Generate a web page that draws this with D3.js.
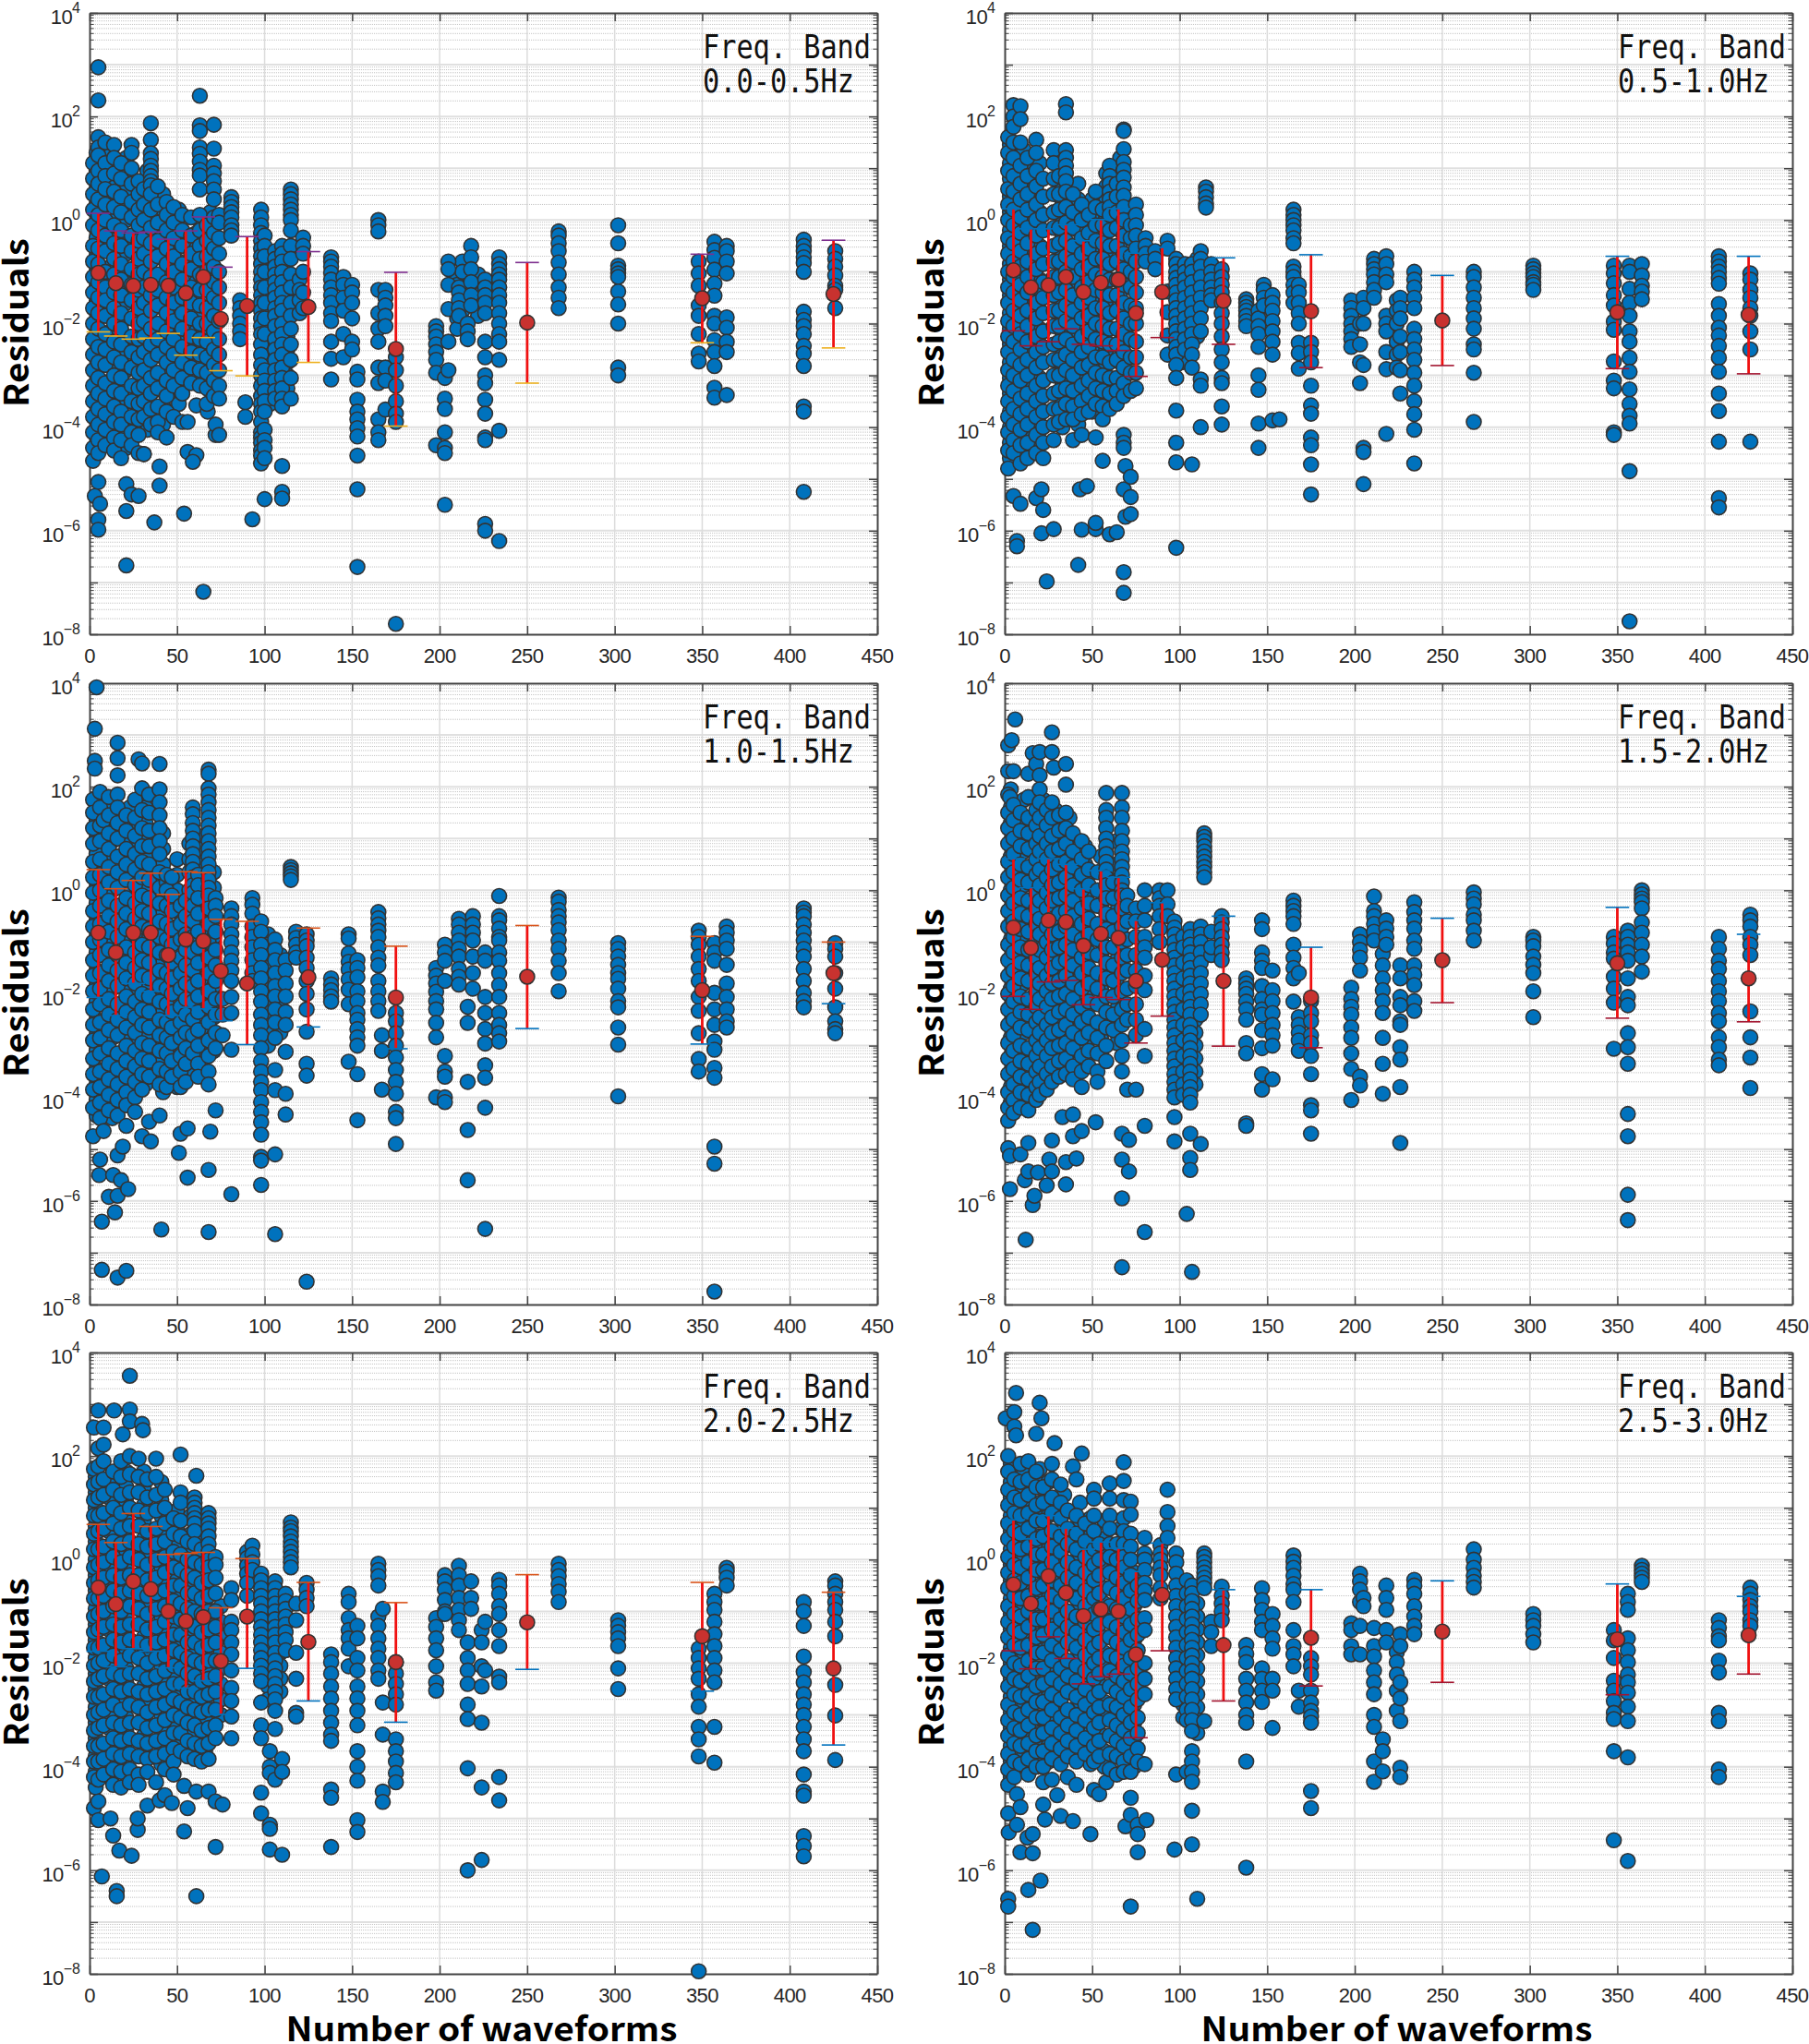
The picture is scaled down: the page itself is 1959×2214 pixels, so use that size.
<!DOCTYPE html>
<html><head><meta charset="utf-8">
<style>html,body{margin:0;background:#fff}svg{display:block}</style>
<script src="https://cdn.jsdelivr.net/npm/d3@7"></script></head><body>
<svg id="c" width="1959" height="2214"></svg>
<script>
// Each row: [number of waveforms, log10(residual), log10(residual), ...]
const pointsBand1=[
[4,1.3,.95,.6,.3,-.05,-.35,-.7,-1,-1.3,-1.6,-1.95,-2.25,-2.55,-2.9,-3.2,-3.5,-3.85,-4.15,-4.45],
[12,1.3,1,.7,.4,.1,-.25,-.6,-.9,-1.2,-1.55,-1.85,-2.15,-2.5,-2.8,-3.1,-3.45,-3.75,-4.05,-4.3],
[21,1.2,.95,.6,.3,0,-.35,-.65,-1,-1.3,-1.6,-1.9,-2.25,-2.55,-2.9,-3.2,-3.5,-3.8,-4.1,-4.4],
[33,.95,.65,.35,0,-.3,-.6,-.95,-1.25,-1.55,-1.9,-2.2,-2.5,-2.85,-3.15,-3.45,-3.8,-4.05],
[42,.5,.2,-.1,-.45,-.75,-1.05,-1.4,-1.7,-2,-2.35,-2.65,-2.95,-3.3,-3.6,-3.95],
[51,.2,-.15,-.45,-.8,-1.1,-1.4,-1.75,-2.05,-2.35,-2.7,-3,-3.3,-3.55],
[61,.05,-.25,-.55,-.9,-1.2,-1.5,-1.85,-2.15,-2.45,-2.8,-3.1],
[69,.15,-.2,-.5,-.85,-1.15,-1.45,-1.8,-2.1,-2.4,-2.7,-3,-3.3],
[103,-.65,-.85,-1.1,-1.35,-1.55,-1.8,-2.05,-2.3,-2.55,-2.8,-3.05,-3.3,-3.55],
[113,-.75,-1,-1.25,-1.5,-1.75,-2,-2.25,-2.5,-2.75,-3,-3.25],
[222,-1.05,-1.25,-1.45,-1.65,-1.85],[210,-1.1,-1.25,-1.9,-2.1],[213,-.8,-1,-1.5,-1.75],
[2,1.1,.8,.5,.2,-.1,-.5,-.8,-1.1,-1.4,-1.7,-2,-2.3,-2.6,-2.9,-3.2,-3.5,-3.8,-4.1,-4.4,-4.65],
[5,2.95,2.31,1.6,1.4,1.25,.95,.7,.4,.1,-.2,-.55,-.85,-1.2,-1.5,-1.8,-2.1,-2.45,-2.75,-3.05,-3.35,-3.65,-3.95,-4.25,-4.5,-5.06,-5.79,-5.98],
[3,-5.33],[6,-5.48],[21,-6.67],[21,-5.62],[37,-5.84],[54,-5.67],[93,-5.78],[65,-7.18],[100,-5.39],[110,-5.25,-5.38],
[9,1.5,1.1,.85,.6,.3,0,-.3,-.6,-1,-1.3,-1.55,-1.85,-2.2,-2.5,-2.8,-3.15,-3.45,-3.75,-4.05,-4.35],
[14,1.45,1.2,.9,.55,.25,-.1,-.45,-.75,-1.05,-1.4,-1.7,-2,-2.35,-2.65,-3,-3.3,-3.6,-3.9,-4.2,-4.45],
[18,1.1,.8,.45,.15,-.2,-.5,-.85,-1.15,-1.45,-1.8,-2.1,-2.4,-2.75,-3.05,-3.35,-3.7,-3.95,-4.25,-4.6],
[24,1.45,1.3,1,.7,.35,.05,-.3,-.6,-.95,-1.25,-1.55,-1.9,-2.25,-2.55,-2.85,-3.2,-3.5,-3.8,-4.1,-4.35],
[21,-5.1],[24,-5.3],[28,-5.33],[40,-5.13,-4.76],
[28,.75,.5,.2,-.1,-.4,-.75,-1.05,-1.35,-1.7,-2,-2.3,-2.65,-2.95,-3.25,-3.55,-3.85,-4.15,-4.5],
[31,.6,.3,0,-.35,-.65,-1,-1.3,-1.6,-1.95,-2.25,-2.55,-2.9,-3.2,-3.5,-3.8,-4.52],
[35,1.87,1.55,1.29,1.18,1.05,.95,.85,.75,.67,.5,.2,-.15,-.45,-.8,-1.1,-1.45,-1.75,-2.1,-2.4,-2.7,-3.05,-3.35,-3.65,-3.95],
[39,.65,.3,-.05,-.4,-.7,-1.05,-1.35,-1.65,-2,-2.3,-2.6,-2.95,-3.25,-3.6,-3.9,-4.1],
[44,.35,.1,-.2,-.55,-.85,-1.2,-1.5,-1.8,-2.15,-2.45,-2.75,-3.1,-3.4,-3.7,-4.2],
[48,.25,-.05,-.35,-.7,-1,-1.3,-1.6,-1.95,-2.3,-2.6,-2.9,-3.2,-3.8],
[53,.1,-.2,-.5,-.85,-1.15,-1.5,-1.8,-2.1,-2.45,-2.75,-3.05,-3.35,-3.9],
[56,-4.48,-3.9],[61,-4.54,-3.58],[59,-4.67],[72,-4.15,-3.95],[31,-4.52],[67.5,-3.7],[89,-3.52,-3.8],
[58,.05,-.3,-.65,-.95,-1.3,-1.6,-1.9,-2.25,-2.55,-2.85,-3.15],
[63,2.4,1.83,1.72,1.4,1.28,1.13,.97,.86,.59,.1,-.2,-.5,-.75,-1.05,-1.35,-1.65,-2,-2.3,-2.6,-2.9,-3.2],
[67,-.1,-.4,-.7,-1,-1.35,-1.7,-2,-2.35,-2.65,-2.95,-3.25,-3.55],
[71,1.84,1.38,1.05,.9,.75,.59,.4,.05,-.25,-.55,-.9,-1.2,-1.5,-1.85,-2.15,-2.5,-2.8,-3.1,-3.4],
[74,.1,-.05,-.35,-.65,-1,-1.3,-1.6,-1.95,-2.3,-2.6,-2.9,-3.2,-3.45,-4.15],
[81,.44,.35,.25,.15,.05,-.1,-.2,-.3],
[86,-1.55,-1.7,-1.85,-2,-2.15,-2.3],
[98,.2,.05,-.1,-.25,-.4,-.55,-.7,-.85,-1,-1.15,-1.3,-1.45,-1.6,-1.75,-1.9,-2.05,-2.2,-2.4,-2.6,-2.8,-3,-3.2,-3.4,-3.55,-3.7,-3.9,-4.1,-4.2,-4.3,-4.45,-4.55,-4.7],
[100,-.3,-.5,-.7,-1,-1.3,-1.6,-1.9,-2.2,-2.9,-3.1,-3.3,-3.5,-3.7,-4.05,-4.25,-4.4,-4.6],
[106,-.6,-.75,-.9,-1.05,-1.2,-1.35,-1.5,-1.7,-1.85,-2.05,-2.3,-2.5,-2.7,-2.9,-3.1,-3.3,-3.45],
[110,-.5,-.65,-.8,-1,-1.2,-1.4,-1.6,-1.75,-2,-2.2,-2.4,-2.6,-2.85,-3.05,-3.25,-3.45,-3.6,-4.75],
[115,.59,.5,.4,.3,.2,.1,0,-.2,-.5,-.75,-1.05,-1.3,-1.6,-1.85,-2.1,-2.4,-2.7,-3.05,-3.45],
[120,-1.15,-1.35,-1.55,-1.8],
[122,-.34,-.5,-.65,-1,-1.4,-1.7],
[138,-.72,-.8,-.9,-1.02,-1.15,-1.3,-1.45,-1.6,-1.8,-1.95,-2.35,-2.68,-3.08],
[145,-1.1,-1.25,-1.5,-1.75,-2.2,-2.65],
[150,-1.25,-1.4,-1.6,-1.9,-2.35,-2.5],
[153,-2.93,-3.08,-3.47,-3.7,-3.85,-4.02,-4.18,-4.55,-5.2,-6.7],
[165,0,-.1,-.22,-1.35,-1.8,-2.1,-2.35,-2.85,-3.15,-3.85,-4.1,-4.25],
[169,-1.35,-1.5,-1.65,-1.85,-2.05,-2.85,-3.1,-3.66],
[175,-2.65,-2.9,-3.2,-3.5,-3.74,-3.9,-7.8],
[198,-2.05,-2.15,-2.25,-2.4,-2.55,-2.7,-2.95,-4.35],
[203,-3.05,-3.45,-3.65,-4.1,-4.4,-4.5,-5.5],
[205,-.8,-.95,-1.25,-1.72,-2.35,-2.9],
[211,-1.3,-1.4,-1.55,-1.7,-1.85],
[216,-2,-2.15,-2.3],
[218,-.5,-.72,-.95,-1.2,-1.45,-1.65],
[226,-1.15,-1.3,-1.45,-1.6,-1.8,-2.35,-2.65,-3,-3.15,-3.47,-3.74,-4.2,-4.25,-5.87,-6],
[234,-.72,-.85,-.95,-1.05,-1.15,-1.3,-1.45,-1.6,-1.8,-2,-2.2,-2.35,-2.7,-4.07,-6.2],
[268,-.22,-.3,-.45,-.6,-.82,-1.05,-1.3,-1.5,-1.7],
[302,-.1,-.45,-.88,-.95,-1.03,-1.1,-1.38,-1.63,-2,-2.85,-3],
[348,-.8,-1.03,-1.27,-1.65,-1.85,-2.2,-2.58,-2.73],
[357,-.42,-.58,-.73,-.96,-1.23,-1.46,-1.85,-2,-2.32,-2.55,-2.82,-3.24,-3.43],
[364,-.5,-.6,-.8,-1.03,-1.88,-2.08,-2.35,-2.55,-3.38],
[408,-.38,-.5,-.6,-.72,-.83,-1,-1.77,-1.93,-2.05,-2.2,-2.43,-2.58,-2.82,-3.6,-3.7,-5.25],
[426,-.6,-.75,-.9,-1.07,-1.27,-1.35,-1.7]
];
const pointsBand2=[
[3,1.45,1.1,.8,.45,.15,-.2,-.5,-.85,-1.15,-1.45,-1.8,-2.1,-2.4,-2.75,-3.05,-3.35,-3.7,-4,-4.3,-4.6],
[11,1.35,1.05,.7,.35,.05,-.3,-.6,-.95,-1.25,-1.6,-1.9,-2.2,-2.55,-2.85,-3.15,-3.5,-3.8,-4.1,-4.4],
[20,1.1,.8,.45,.15,-.15,-.5,-.8,-1.15,-1.45,-1.75,-2.1,-2.4,-2.7,-3.05,-3.35,-3.65,-3.95,-4.25],
[33,.95,.7,.35,.05,-.3,-.6,-.9,-1.25,-1.55,-1.85,-2.2,-2.5,-2.8,-3.15,-3.45,-3.75,-4],
[42,.7,.4,.1,-.2,-.55,-.85,-1.2,-1.5,-1.8,-2.15,-2.45,-2.75,-3.1,-3.4,-3.7,-3.95],
[50,.4,.05,-.3,-.6,-.95,-1.25,-1.55,-1.9,-2.2,-2.5,-2.85,-3.15,-3.45,-3.7],
[58,.9,.65,.4,.05,-.25,-.6,-.9,-1.2,-1.55,-1.85,-2.15,-2.5,-2.8,-3.1,-3.4],
[66,1.2,1,.75,.4,.1,-.2,-.55,-.85,-1.2,-1.5,-1.8,-2.15,-2.45,-2.75,-3.1,-3.35],
[101,-.9,-1.1,-1.35,-1.55,-1.8,-2.05,-2.3,-2.5,-2.75],
[110,-.75,-1,-1.25,-1.5,-1.75,-2,-2.25],
[2,1.6,1.3,.95,.6,.3,0,-.35,-.65,-1,-1.3,-1.6,-1.95,-2.25,-2.55,-2.9,-3.2,-3.5,-3.8,-4.1,-4.45,-4.8],
[5,2.22,2,1.8,1.5,1.2,.85,.55,.2,-.1,-.45,-.8,-1.1,-1.4,-1.75,-2.05,-2.35,-2.7,-3,-3.3,-3.65,-3.95,-4.25,-4.5,-5.33],
[7,-6.2,-6.3],[9,2.2,1.95,1.5,1.05,.7,.4,.05,-.25,-.6,-.9,-1.25,-1.55,-1.85,-2.2,-2.5,-2.8,-3.1,-3.45,-3.75,-4.05,-4.35,-4.7,-5.48],
[13,1.2,.85,.5,.2,-.15,-.45,-.8,-1.1,-1.4,-1.75,-2.05,-2.35,-2.7,-3,-3.35,-3.65,-3.95,-4.3,-4.6],
[18,1.55,1.3,.95,.65,.3,0,-.3,-.65,-.95,-1.3,-1.6,-1.9,-2.25,-2.55,-2.85,-3.2,-3.5,-3.8,-4.15,-4.5,-5.37],
[21,-6.05,-5.2],[22,.8,.45,.1,-.2,-.55,-.85,-1.2,-1.5,-1.8,-2.15,-2.45,-2.75,-3.1,-3.4,-3.7,-4,-4.3,-4.6,-5.6],
[24,-6.98],[28,1.35,1.1,.8,.5,.15,-.15,-.5,-.8,-1.1,-1.45,-1.75,-2.05,-2.4,-2.7,-3,-3.35,-3.65,-3.95,-4.25,-5.97],
[31,.85,.5,.2,-.15,-.45,-.8,-1.1,-1.4,-1.75,-2.05,-2.35,-2.7,-3,-3.3,-3.65,-3.9],
[35,2.24,2.08,1.35,1.2,1.05,.9,.75,.55,.25,-.05,-.4,-.7,-1,-1.35,-1.65,-1.95,-2.3,-2.6,-2.9,-3.25,-3.55,-3.85],
[39,.5,.15,-.15,-.5,-.8,-1.1,-1.45,-1.75,-2.05,-2.4,-2.7,-3,-3.3,-3.6,-3.85,-4.25],
[42,-6.66],[44,.3,0,-.35,-.65,-.95,-1.3,-1.6,-1.9,-2.25,-2.55,-2.85,-3.2,-3.5,-3.75,-4.15,-5.98],[43,-5.2],[47,-5.14],
[48,.1,-.25,-.55,-.9,-1.2,-1.5,-1.85,-2.15,-2.45,-2.8,-3.1,-3.4,-3.7],
[52,.55,.25,-.1,-.4,-.75,-1.05,-1.35,-1.7,-2,-2.3,-2.65,-2.95,-3.25,-3.55,-4.2,-5.97,-5.85],
[56,.2,-.1,-.45,-.75,-1.1,-1.4,-1.7,-2.05,-2.35,-2.65,-3,-3.3,-3.6,-3.85,-4.65],
[60,1.05,.85,.7,.55,.4,.25,.1,-.2,-.5,-.85,-1.15,-1.45,-1.8,-2.1,-2.4,-2.75,-3.05,-3.35,-3.65,-6.07],
[64,.7,.45,.15,-.15,-.5,-.8,-1.15,-1.45,-1.75,-2.1,-2.4,-2.7,-3.05,-3.3,-3.55,-6.03],
[68,1.75,1.72,1.37,1.12,.97,.82,.63,.47,.25,0,-.3,-.65,-.95,-1.25,-1.6,-1.9,-2.2,-2.55,-2.85,-3.15,-3.4,-4.15,-4.3,-4.4,-5.2,-6.8,-7.2],
[69,-4.75,-5.73],[72,-.1,-.35,-.7,-1,-1.3,-1.65,-2,-2.3,-2.65,-2.95,-3.3,-4.96,-5.35,-5.68],
[75,.3,.1,-.1,-.3,-.55,-.8,-1.1,-1.4,-1.7,-2,-2.35,-2.65,-2.95,-3.25],
[80.5,-.35,-.5,-.65,-.8],[86,-.6,-.75,-.95],
[93,-.4,-.55,-1.38,-1.78,-2.23,-2.6],
[98,-.75,-.85,-1,-1.12,-1.25,-1.4,-1.55,-1.7,-1.85,-2,-2.15,-2.3,-2.45,-2.6,-2.8,-3.05,-3.68,-4.3,-4.68,-6.33],
[103,-.85,-1,-1.15,-1.3,-1.5,-1.7,-1.9,-2.1,-2.3,-2.5],
[107,-.85,-1,-1.2,-1.4,-1.6,-1.8,-2,-2.2,-2.4,-2.6,-2.85,-4.72],
[112,-.6,-.75,-.9,-1.1,-1.3,-1.5,-1.7,-1.9,-2.15,-3.08,-3.2,-4],
[115,.63,.55,.44,.32,.24],[118,-.85,-1,-1.15,-1.3,-1.45,-1.55],
[124,-.95,-1.1,-1.25,-1.4,-1.6,-1.8,-2,-2.25,-2.5,-2.75,-3.05,-3.15,-3.6,-3.95],
[138,-1.53,-1.6,-1.68,-1.75,-1.85,-1.95,-2.05],
[145,-1.75,-1.9,-2.05,-2.2,-2.45,-3,-3.28,-3.93,-4.4],
[148,-1.25,-1.35,-1.5,-1.65],
[153,-1.45,-1.6,-1.75,-1.95,-2.15,-2.35,-2.6,-3.87],[157,-3.85],
[165,.2,.1,0,-.1,-.2,-.35,-.45,-.9,-1,-1.1,-1.25,-1.4,-1.6],
[168,-1.25,-1.4,-1.6,-1.8,-2,-2.37,-2.57,-2.87],
[175,-2.37,-2.55,-2.75,-3.2,-3.58,-3.74,-4.2,-4.35,-4.72,-5.3],
[198,-1.55,-1.7,-1.85,-2,-2.15,-2.3,-2.45],
[203,-2,-2.4,-2.75,-3.15],[205,-1.5,-1.7,-2,-2.8,-4.4,-4.48,-5.1],
[211,-.75,-.85,-.95,-1.05,-1.2,-1.35,-1.5],
[218,-.7,-.85,-1.05,-1.2,-1.85,-2,-2.15,-2.55,-2.88,-4.13],
[224,-1.55,-1.75,-2,-2.35,-2.6,-2.85],[226,-1.5,-1.7,-1.9,-2.25,-2.55,-2.9,-3.35],
[234,-1,-1.15,-1.3,-1.5,-1.7,-2.1,-2.3,-2.5,-2.7,-2.95,-3.2,-3.5,-3.75,-4.05,-4.7],
[268,-1,-1.1,-1.3,-1.5,-1.7,-1.9,-2.1,-2.4,-2.5,-2.95,-3.9],
[302,-.88,-.95,-1.03,-1.1,-1.2,-1.25,-1.35],
[348,-.88,-1.03,-1.22,-1.45,-1.65,-1.96,-2.12,-2.73,-3.1,-3.25,-4.1,-4.15],
[357,-.88,-1,-1.33,-1.6,-1.85,-2.15,-2.35,-2.66,-2.93,-3.27,-3.55,-3.78,-3.93,-4.85,-7.75],
[364,-.85,-1.07,-1.27,-1.38,-1.53],
[408,-.7,-.8,-.9,-1,-1.12,-1.23,-1.62,-1.85,-2.08,-2.23,-2.43,-2.66,-2.93,-3.35,-3.69,-4.28,-5.37,-5.55],
[426,-1.03,-1.15,-1.35,-1.5,-1.7,-1.85,-2.15,-2.5,-4.28]
];
const pointsBand3=[
[4,1.6,1.35,1,.7,.35,.05,-.25,-.6,-.9,-1.2,-1.55,-1.85,-2.15,-2.5,-2.8,-3.1,-3.45,-3.75,-4.05,-4.35],
[13,1.65,1.3,.95,.65,.3,0,-.35,-.65,-.95,-1.3,-1.6,-1.9,-2.25,-2.55,-2.85,-3.2,-3.5,-3.8,-4.1,-4.4],
[23,1.6,1.25,.95,.6,.3,-.05,-.35,-.65,-1,-1.3,-1.6,-1.95,-2.25,-2.55,-2.9,-3.2,-3.5,-3.85,-4.1],
[32,1.6,1.3,1,.65,.35,0,-.3,-.6,-.95,-1.25,-1.55,-1.9,-2.2,-2.5,-2.85,-3.15,-3.45,-3.75],
[42,1.1,.8,.5,.15,-.15,-.45,-.8,-1.1,-1.4,-1.75,-2.05,-2.35,-2.7,-3,-3.3,-3.65,-3.9],
[50,.6,.3,0,-.4,-.7,-1,-1.35,-1.65,-1.95,-2.3,-2.6,-2.9,-3.25,-3.55,-3.8],
[57,.9,.6,.35,0,-.35,-.65,-1,-1.3,-1.6,-1.95,-2.25,-2.55,-2.9,-3.2,-3.5],
[65,1.05,.8,.5,.2,-.1,-.4,-.75,-1.05,-1.35,-1.7,-2,-2.3,-2.65,-2.95,-3.25,-3.6],
[71,.35,.05,-.25,-.55,-.9,-1.2,-1.5,-1.85,-2.15,-2.45,-2.8,-3.1],
[102,-.85,-1.05,-1.25,-1.5,-1.75,-2,-2.25,-2.5,-2.75,-3],
[109,-1.25,-1.5,-1.75,-2,-2.25,-2.5,-2.75],
[2,1.75,1.5,1.2,.9,.55,.25,-.05,-.4,-.7,-1,-1.35,-1.65,-1.95,-2.3,-2.6,-2.9,-3.25,-3.55,-3.85,-4.2,-4.75],
[3,3.12,2.5,2.35],[4,3.92],[6,1.9,1.6,1.25,.95,.6,.3,0,-.3,-.65,-.95,-1.25,-1.6,-1.9,-2.2,-2.55,-2.85,-3.15,-3.5,-3.8,-4.1,-4.4,-5.2],
[5.5,-5.5],[7,-6.4,-7.33],[8,-4.65,1.35],
[11,1.8,1.45,1.1,.8,.45,.15,-.2,-.5,-.8,-1.15,-1.45,-1.75,-2.1,-2.4,-2.7,-3.05,-3.35,-3.65,-3.95,-4.25,-5.92],
[16,2.85,2.55,2.22,1.85,1.6,1.3,1,.65,.35,.05,-.3,-.6,-.9,-1.25,-1.55,-1.85,-2.2,-2.5,-2.8,-3.15,-3.45,-3.75,-4.05,-4.35,-5.12,-5.9,-7.48],
[13.5,-5.5],[14.5,-6.22],[18,-5.6],[19,-4.95],[22,-5.77],[21,-7.35],
[21,1.45,1.15,.8,.5,.2,-.15,-.45,-.75,-1.1,-1.4,-1.7,-2.05,-2.35,-2.65,-3,-3.3,-3.6,-3.9,-4.15,-4.55],
[26,1.75,1.4,1.05,.7,.4,.1,-.25,-.55,-.85,-1.2,-1.5,-1.8,-2.15,-2.45,-2.75,-3.1,-3.4,-3.7,-4,-4.28],
[28,2.53],[30,2.45,1.97,1.55,1.2,.85,.55,.25,-.1,-.4,-.7,-1.05,-1.35,-1.65,-2,-2.3,-2.6,-2.95,-3.25,-3.55,-3.85,-4.75],
[34,1.85,1.5,1.15,.85,.5,.2,-.15,-.45,-.75,-1.1,-1.4,-1.7,-2.05,-2.35,-2.65,-3,-3.3,-3.6,-4.47],[35,-4.85],
[40,2.44,1.95,1.7,1.45,1.2,.95,.7,.35,.05,-.25,-.6,-.9,-1.2,-1.55,-1.85,-2.15,-2.5,-2.8,-3.1,-3.45,-3.75,-4.35],
[41,-6.55],[44,.15,.3,0,-.3,-.65,-.95,-1.25,-1.6,-1.9,-2.2,-2.55,-2.85,-3.15,-3.5,-3.8],
[47,.25,-.1,-.4,-.75,-1.05,-1.4,-1.7,-2,-2.35,-2.65,-2.95,-3.3,-3.6],
[51,-5.07],[52,-.3,-.65,-.95,-1.3,-1.6,-1.9,-2.25,-2.55,-2.85,-3.2,-3.5,-3.8,-4.7],[56,-5.55,-4.6],
[55,-.2,-.5,-.85,-1.15,-1.45,-1.8,-2.1,-2.4,-2.75,-3.05,-3.35,-3.7],
[59,1.6,1.47,1.3,1.15,1,.85,.7,.55,.4,.25,.1,-.05,-.3,-.6,-.9,-1.2,-1.55,-1.85,-2.15,-2.5,-2.8,-3.15],
[62,.3,.1,-.15,-.45,-.8,-1.1,-1.4,-1.75,-2.05,-2.35,-2.7,-3,-3.35,-3.6],
[68,2.33,2.25,1.97,1.85,1.7,1.55,1.4,1.25,1.1,.95,.8,.65,.5,.35,.2,.05,-.1,-.35,-.65,-1,-1.3,-1.6,-1.95,-2.25,-2.55,-2.9,-3.2,-3.5,-3.75,-5.4,-6.6],
[69,-4.66],[72,-.15,-.3,-.5,-.8,-1.15,-1.45,-1.75,-2.1,-2.4,-2.75,-3.05,-4.25],
[76,-2.1,-2.4,-2.8],
[81,-.35,-.5,-.66,-.85,-1.01,-1.2,-1.36,-1.55,-1.75,-2.06,-2.37,-3.08,-5.87],
[93,-.15,-.28,-.45,-.7,-.9,-1.1,-1.35,-1.6,-1.75],
[98,-.6,-.8,-1.05,-1.25,-1.5,-1.7,-1.95,-2.15,-2.4,-2.6,-2.8,-3.05,-3.3,-3.5,-3.7,-3.86,-4.09,-4.28,-4.48,-4.72,-5.15,-5.22,-5.69],
[106,-.95,-1.15,-1.35,-1.6,-1.85,-2.05,-2.3,-2.55,-2.85,-3.47,-3.86,-5.1,-6.64],
[112,-1.35,-1.55,-1.8,-2.05,-2.35,-2.6,-3.12,-3.93,-4.33],
[115,.45,.39,.33,.27,.2],
[118,-.8,-.92,-1.05,-1.2,-1.3],
[124,-.85,-.97,-1.08,-1.3,-1.5,-1.75,-2,-2.3,-2.73,-3.35,-3.58,-7.56],
[138,-1.7,-1.82,-1.93,-2.05,-2.15],
[148,-.85,-.93,-1.22,-1.38,-1.53,-1.72,-1.92,-2.2,-3.31],
[153,-1.35,-1.5,-1.68,-1.95,-2.14,-2.37,-2.5,-2.68,-2.84,-3,-3.55,-4.44],
[165,-.42,-.54,-.66,-.78,-.9,-1.1,-1.3,-1.45,-1.75,-1.95,-2.14,-2.33],
[167,-2.8,-3.1,-3.85],
[175,-2.37,-2.53,-2.76,-3,-3.23,-3.47,-3.7,-3.93,-4.28,-4.4,-4.9],
[198,-1.5,-1.65,-1.8,-1.96,-2.14,-2.3,-2.56,-2.84,-4],
[203,-1.05,-1.2,-1.36,-1.75,-3.2,-3.5,-3.6,-4,-4.09],
[211,-.55,-.66,-.82,-.97,-1.13,-1.28,-1.52,-1.67,-1.82],
[216,-2.25,-2.56,-3.7,-4.63,-5.6],
[219,-.5,-.66,-.82,-.97,-1.28,-1.6,-1.9],
[226,-1.2,-1.36,-2.06,-2.37,-2.68,-2.96,-3.38,-3.62,-4.2,-6.54],
[234,-.11,-.5,-.58,-.74,-.9,-.97,-1.2,-1.36,-1.6,-1.83,-2.06,-2.37,-2.6,-2.76,-2.92],
[268,-.14,-.22,-.38,-.5,-.62,-.77,-.97,-1.13,-1.36,-1.6,-1.95],
[302,-1.02,-1.13,-1.28,-1.44,-1.6,-1.71,-1.9,-2.14,-2.26,-2.65,-2.98,-3.98],
[348,-.78,-.9,-1.05,-1.28,-1.52,-1.75,-2.06,-2.33,-2.76,-3.26,-3.5],
[357,-1.02,-1.2,-1.36,-1.98,-2.3,-2.6,-2.92,-3.08,-3.43,-3.62,-4.95,-5.28,-7.75],
[364,-.7,-.82,-.97,-1.13,-1.44,-1.8,-2.06,-2.3,-2.53,-2.65],
[408,-.35,-.43,-.5,-.66,-.82,-.97,-1.13,-1.28,-1.52,-1.75,-1.98,-2.14,-2.26],
[426,-1.02,-1.13,-1.28,-1.6,-1.9,-2.26,-2.53,-2.68,-2.76]
];
const pointsBand4=[
[3.5,1.95,1.6,1.3,.95,.65,.3,0,-.35,-.65,-.95,-1.3,-1.6,-1.9,-2.25,-2.55,-2.85,-3.2,-3.5,-3.8,-4.1],
[11,1.75,1.4,1.05,.75,.4,.1,-.25,-.55,-.85,-1.2,-1.5,-1.8,-2.15,-2.45,-2.75,-3.1,-3.4,-3.7,-4],
[22,1.75,1.4,1.1,.75,.45,.1,-.2,-.5,-.85,-1.15,-1.45,-1.8,-2.1,-2.4,-2.75,-3.05,-3.35,-3.7],
[29,1.55,1.2,.9,.55,.25,-.1,-.4,-.7,-1.05,-1.35,-1.65,-2,-2.3,-2.6,-2.95,-3.25,-3.55],
[37,1.4,1.05,.7,.4,.05,-.25,-.55,-.9,-1.2,-1.5,-1.85,-2.15,-2.45,-2.8,-3.1,-3.4],
[46,.85,.5,.2,-.15,-.45,-.75,-1.1,-1.4,-1.7,-2.05,-2.35,-2.65,-3,-3.3],
[55,.65,.35,0,-.3,-.65,-.95,-1.25,-1.6,-1.9,-2.2,-2.55,-2.85,-3.15],
[64,.95,.5,.2,-.1,-.4,-.75,-1.05,-1.35,-1.7,-2,-2.3,-2.65,-2.95],
[109,-.8,-1,-1.25,-1.5,-1.75,-2,-2.25,-2.5,-2.75,-3,-3.25,-3.5,-3.75],
[2,2.8,2.3,1.85,1.5,1.2,.9,.55,.25,-.1,-.4,-.7,-1.05,-1.35,-1.65,-2,-2.3,-2.6,-2.95,-3.25,-3.55,-3.9,-4.2,-4.45,-4.98],
[3,1.8,-5.13,-5.77],[4,2.9],[5,2.3,1.65,1.35,1,.7,.35,.05,-.25,-.6,-.9,-1.2,-1.55,-1.85,-2.15,-2.5,-2.8,-3.1,-3.45,-3.75,-4.05,-4.3],
[6,3.3],[9,1.5,1.15,.85,.5,.2,-.15,-.45,-.75,-1.1,-1.4,-1.7,-2.05,-2.35,-2.65,-3,-3.3,-3.6,-3.9,-4.2,-5.1],
[11.5,-5.6],[12,-6.75],[13.5,2.25,1.8,1.4,1.1,.8,.45,.15,-.2,-.5,-.8,-1.15,-1.45,-1.75,-2.1,-2.4,-2.7,-3.05,-3.35,-3.65,-3.95,-4.25,-4.88,-5.43],
[16,2.65,-6.08],[17,-5.9],[18,2.44,1.55,1.25,.9,.6,.3,-.05,-.35,-.65,-1,-1.3,-1.6,-1.95,-2.25,-2.55,-2.9,-3.2,-3.5,-3.8,-4.05],
[19,-5.45],[20,2.67,2.22,1.95,1.7,1.4,1.05,.75,.4,.1,-.2,-.55,-.85,-1.15,-1.5,-1.8,-2.1,-2.45,-2.75,-3.05,-3.4,-3.7,-3.95],
[24,1.55,1.25,.9,.6,.25,-.05,-.35,-.7,-1,-1.3,-1.65,-1.95,-2.25,-2.6,-2.9,-3.2,-3.55,-3.85,-5.7],
[25.5,-5.2],[27,3.05,2.67,1.7,1.4,1.05,.75,.4,.1,-.2,-.55,-.85,-1.15,-1.5,-1.8,-2.1,-2.45,-2.75,-3.05,-3.4,-3.7,-5.43,-4.83],
[28,2.37],[31,1.45,1.15,.8,.5,.15,-.15,-.45,-.8,-1.1,-1.4,-1.75,-2.05,-2.35,-2.7,-3,-3.3,-3.6],
[33,-4.38],[35,2.44,2.04,1.5,1.2,.9,.55,.25,-.1,-.4,-.7,-1.05,-1.35,-1.65,-2,-2.3,-2.6,-2.95,-3.25,-3.55,-5.68,-5.25],
[39,1.1,.75,.45,.1,-.2,-.5,-.85,-1.15,-1.45,-1.8,-2.1,-2.4,-2.75,-3.05,-3.4,-3.65,-4.33,-4.75],[41,-5.18],
[44,.95,.6,.3,0,-.35,-.65,-.95,-1.3,-1.6,-1.9,-2.25,-2.55,-2.85,-3.2,-3.5,-3.8,-4.65],
[48,.75,.4,.1,-.25,-.55,-.85,-1.2,-1.5,-1.8,-2.15,-2.45,-2.75,-3.1,-3.4],[52,-4.48],
[53,.35,0,-.3,-.65,-.95,-1.25,-1.6,-1.9,-2.2,-2.55,-2.85,-3.15,-3.5,-3.7],
[58,1.88,1.55,1.4,1.2,1,.85,.7,.55,.4,.25,.1,-.15,-.45,-.75,-1.1,-1.4,-1.7,-2.05,-2.35,-2.65,-3,-3.3],
[62,.15,-.15,-.5,-.8,-1.1,-1.45,-1.75,-2.05,-2.4,-2.7],
[67,1.88,1.6,1.4,1.15,.95,.75,.6,.45,.3,.15,0,-.1,-.35,-.7,-1,-1.3,-1.6,-1.95,-2.3,-2.6,-2.9,-3.2,-3.5,-5.95,-7.28,-5.2,-4.7],
[70,-.1,-.3,-.6,-.95,-1.25,-1.55,-1.9,-2.2,-2.5,-3.85],[71,-5.43,-4.82],
[75,-.35,-.6,-.9,-1.25,-1.55,-1.85,-2.2,-2.5,-2.8,-3.85],
[80,0,-.3,-.58,-.9,-1.1,-1.3,-1.65,-1.93,-2.68,-3.2,-4.55,-6.6],
[88.5,0,-.15,-.3,-.5,-.75,-1],
[93,0,-.27,-.5],
[97,-.6,-.72,-.85,-1,-1.15,-1.3,-1.45,-1.6,-1.75,-1.9,-2.05,-2.2,-2.35,-2.5,-2.65,-2.8,-2.95,-3.1,-3.25,-3.4,-3.55,-3.7,-3.85,-4,-4.38,-4.85],
[104,-6.25],[102,-.9,-1.1,-1.4,-1.7,-2,-2.3,-2.6,-2.9,-3.2,-3.5,-3.75,-3.95],
[106,-.75,-.9,-1.05,-1.2,-1.35,-1.5,-1.65,-1.8,-1.95,-2.1,-2.25,-2.4,-2.6,-2.75,-2.9,-3.05,-3.2,-3.35,-3.5,-3.65,-3.8,-3.95,-4.1,-4.7,-5.17,-5.4],
[107,-7.37],[112,-.7,-.85,-1,-1.2,-1.4,-1.6,-1.8,-2,-2.2,-2.4,-4.9],
[114,1.1,1.03,.95,.85,.75,.65,.55,.45,.35,.25],
[118,-1.25,-1.1,-.8],
[124,-.5,-.62,-.75,-.9,-1.05,-1.2,-1.35],
[138,-1.7,-1.8,-1.9,-2,-2.15,-2.3,-2.5,-2.95,-3.15,-4.5,-4.55],
[147,-.58,-.75,-1.2,-1.36,-1.5,-1.85,-2.1,-2.3,-2.4,-2.7,-3.05,-3.55,-3.85],
[153,-1.55,-1.93,-2.14,-2.37,-2.6,-2.8,-3,-3.65],
[165,-.2,-.3,-.4,-.5,-.65,-1.05,-1.3,-1.5,-1.7,-2.15],
[168,-1.6,-2.45,-2.6,-2.75,-2.9,-3.1],
[175,-2.14,-2.37,-2.53,-2.8,-2.95,-3.2,-3.55,-4.15,-4.25,-4.7],
[198,-1.88,-2.1,-2.25,-2.4,-2.65,-2.85,-3.15,-3.45,-4.05],
[203,-.85,-1,-1.15,-1.3,-1.55,-3.6,-3.77],
[211,-.12,-.4,-.5,-.65,-.8,-.97],
[216,-1.23,-1.45,-1.7,-1.93,-2.14,-2.37,-2.85,-3.35,-3.93],
[218,-.58,-.74,-.9,-1.05],
[226,-1.45,-1.7,-2.06,-2.22,-2.53,-2.6,-3.03,-3.27,-3.8,-4.88],
[234,-.23,-.42,-.58,-.74,-.97,-1.13,-1.45,-1.63,-1.83,-2.14,-2.33],
[268,-.04,-.16,-.27,-.47,-.58,-.78,-.97],
[302,-.9,-.97,-1.08,-1.28,-1.44,-1.6,-1.95,-2.45],
[348,-.9,-1.03,-1.2,-1.32,-1.67,-1.9,-2.17,-3.06],
[356,-.78,-.9,-1.05,-1.2,-1.36,-1.7,-2.06,-2.22,-2.76,-3.03,-3.35,-4.32,-4.75,-5.88,-6.37],
[364,0,-.08,-.16,-.23,-.35,-.62,-.82,-1.05,-1.28,-1.57],
[408,-.9,-1.13,-1.36,-1.52,-1.75,-1.95,-2.14,-2.37,-2.53,-2.84,-3.03,-3.27,-3.38],
[426,-.47,-.58,-.7,-.9,-1.05,-1.25,-2.34,-2.84,-3.23,-3.82]
];
const pointsBand5=[
[3.5,1.6,1.3,1,.65,.35,0,-.3,-.6,-.95,-1.25,-1.55,-1.9,-2.2,-2.5,-2.85,-3.15,-3.45,-3.8,-4.1,-4.4],
[11,1.55,1.2,.85,.55,.2,-.1,-.4,-.75,-1.05,-1.35,-1.7,-2,-2.3,-2.65,-2.95,-3.25,-3.6,-3.9,-4.2],
[21,1.7,1.4,1.1,.75,.45,.1,-.2,-.5,-.85,-1.15,-1.45,-1.8,-2.1,-2.4,-2.75,-3.05,-3.35,-3.7,-4],
[31,1.7,1.4,1.05,.75,.4,.1,-.2,-.55,-.85,-1.15,-1.5,-1.8,-2.1,-2.45,-2.75,-3.05,-3.4,-3.7],
[41,1.5,1.15,.85,.5,.2,-.15,-.45,-.75,-1.1,-1.4,-1.7,-2.05,-2.35,-2.65,-3,-3.3,-3.6,-3.95],
[50,.95,.6,.3,-.05,-.35,-.65,-1,-1.3,-1.6,-1.95,-2.25,-2.55,-2.9,-3.2,-3.5,-3.75],
[58,.85,.5,.2,-.15,-.45,-.75,-1.1,-1.4,-1.7,-2.05,-2.35,-2.65,-3,-3.3,-3.65],
[66,.4,.1,-.2,-.55,-.85,-1.15,-1.5,-1.8,-2.1,-2.45,-2.75,-3.05,-3.4,-3.7],
[75,-.9,-1.2,-1.5,-1.8,-2.1,-2.4,-2.7,-3],
[102,-.55,-.8,-1.05,-1.25,-1.5,-1.7,-1.95,-2.2,-2.45,-2.7],
[109,-.8,-1.05,-1.3,-1.55,-1.8,-2.05,-2.3,-2.55],
[2.5,2.55,1.75,1.45,1.15,.85,.5,.2,-.15,-.45,-.75,-1.1,-1.4,-1.7,-2.05,-2.35,-2.65,-3,-3.3,-3.6,-3.9,-4.2,-4.8],
[5,2.88,2.15,1.8,1.5,1.2,.85,.55,.2,-.1,-.4,-.75,-1.05,-1.35,-1.7,-2,-2.3,-2.65,-2.95,-3.25,-3.6,-3.9,-4.25,-4.67,-5.03],
[7,-6.12],[8,2.55,2.22,1.9,1.55,1.25,.9,.6,.25,-.05,-.35,-.7,-1,-1.3,-1.65,-1.95,-2.25,-2.6,-2.9,-3.2,-3.55,-3.85,-4.15],
[12,-5],[13.5,1.7,1.35,1,.7,.35,.05,-.3,-.6,-.9,-1.25,-1.55,-1.85,-2.2,-2.5,-2.8,-3.15,-3.45,-3.75,-4.05,-4.35,-5.33],
[14,2.88],[15.5,-6.4,-6.5],[17,-5.62],[18,1.9,1.6,1.25,.9,.6,.3,-.05,-.35,-.65,-1,-1.3,-1.6,-1.95,-2.25,-2.55,-2.9,-3.2,-3.5,-3.8,-4.1,-4.4],
[19,2.42],[23,3.55,2.9,2.67,2,1.65,1.3,1,.65,.35,.05,-.3,-.6,-.9,-1.25,-1.55,-1.85,-2.2,-2.5,-2.8,-3.15,-3.45,-3.75,-4.05,-4.3],
[24,-5.72],[27.5,-5.22,-5],[28,1.95,1.6,1.3,.95,.65,.3,0,-.3,-.65,-.95,-1.25,-1.6,-1.9,-2.2,-2.55,-2.85,-3.15,-3.5,-3.8,-4.15,-4.35],
[30,2.62],[30.5,2.5],[33,1.55,1.2,.9,.55,.25,-.1,-.4,-.7,-1.05,-1.35,-1.65,-2,-2.3,-2.6,-2.95,-3.25,-3.55,-3.85,-4.1,-4.75],
[38,1.95,1.6,1.25,.95,.6,.3,0,-.35,-.65,-.95,-1.3,-1.6,-1.9,-2.25,-2.55,-2.85,-3.2,-3.5,-3.8,-4.3],[40,-4.65],
[43,1.35,1,.7,.35,.05,-.25,-.6,-.9,-1.2,-1.55,-1.85,-2.15,-2.5,-2.8,-3.1,-3.45,-3.75,-4.05,-4.55],[47,-4.7],
[48,.8,.5,.15,-.15,-.5,-.8,-1.1,-1.45,-1.75,-2.05,-2.4,-2.7,-3,-3.35,-3.65,-3.9,-4.15],
[52,2.03,1.3,1.1,.75,.45,.1,-.2,-.5,-.85,-1.15,-1.45,-1.8,-2.1,-2.4,-2.75,-3.05,-3.35,-3.7],
[54,-5.25,-4.37],[56,.35,0,-.3,-.65,-.95,-1.25,-1.6,-1.9,-2.2,-2.55,-2.85,-3.15,-3.5,-3.8,-4.8],
[60,1.2,1.1,1,.9,.8,.7,.55,.3,-.05,-.35,-.65,-1,-1.3,-1.6,-1.95,-2.25,-2.55,-2.9,-3.2,-3.55,-3.85],
[61,1.62,-4.48,-6.5],[64,.2,-.1,-.45,-.75,-1.05,-1.4,-1.7,-2,-2.35,-2.65,-2.95,-3.3,-3.6,-3.9],
[68,.9,.8,.7,.6,.45,.3,.15,0,-.15,-.4,-.7,-1,-1.35,-1.65,-1.95,-2.3,-2.6,-2.9,-3.25,-3.55,-3.85,-4.48],
[72,.05,-.1,-.35,-.65,-1,-1.3,-1.6,-1.95,-2.25,-2.55,-2.9,-3.2,-3.45,-4.67,-5.55],[76,-4.73],
[81,-.55,-.78,-1.2,-1.36,-1.6,-1.83,-2.14,-2.48,-2.73,-3.03,-3.45],
[90,.15,.03,-.12,-.27,-.45,-.7],[93,.27,.1,-.05,-.2],
[98,-.27,-.4,-.55,-.7,-.85,-1,-1.15,-1.3,-1.45,-1.6,-1.75,-1.9,-2.05,-2.2,-2.35,-2.76,-3.2,-3.45,-4.5,-4.9],
[103,-3.7,-4,-4.12,-5.12,-5.2,-5.6],
[106,-.42,-.55,-.7,-.85,-1,-1.15,-1.3,-1.45,-1.6,-1.8,-1.95,-2.1,-2.25,-2.4,-2.55,-2.7,-2.92,-3.27,-4.25],
[110,-3.85,-4.1,-5.7],[112,-.66,-.8,-.95,-1.1,-1.25,-1.4,-1.55,-1.75],
[115,.72,.62,.55,.45,.35,.25,.15,.05,-.05,-.15],
[118,-.85,-1.17,-1.8,-2.3,-2.96,-3.03],
[124,-.45,-.58,-.74,-.9],
[138,-1.83,-1.98,-2.2,-2.45,-2.68,-2.92,-3.15,-3.38,-3.5,-4.44,-4.6,-5.55],
[148,-.66,-.82,-1.13,-1.36,-1.52,-1.72,-2.06],
[153,-1.28,-1.52,-1.9,-2.14,-2.45,-2.68,-2.92,-3.2,-3.7,-4,-4.27,-5.03,-5.26],
[165,-.08,-.2,-.32,-.5,-1.1,-1.28,-1.52,-1.72,-1.9,-2.14,-2.3],
[167.5,-.95,-2.76,-3.38,-4.48,-4.68],
[175,-1.98,-2.2,-2.4,-2.6,-2.8,-3.47,-3.7,-3.9,-4.12,-4.3],
[198,-1.13,-1.3,-1.52,-1.75,-2.06,-2.37,-2.53],
[203,-.3,-.42,-.58,-.78,-1,-1.05],
[211,-.12,-.3,-.5,-.74,-.97,-1.17,-1.36],
[216,-1.6,-1.9,-2.14,-2.4,-2.8,-3.08,-4.03,-6],
[218,-.42,-.74,-.95],[224,-1.36,-1.6,-2.06,-2.45,-3.15,-4.4,-5.8],[226,-1.2,-2.14],
[234,-.39,-.5,-.66,-.9,-1.05,-1.36,-1.67,-2.26,-2.37,-4.2,-4.65],
[268,-.08,-.2,-.32,-.47,-.62,-.82],
[302,-1.17,-1.28,-1.4,-1.52,-1.67,-2.1,-2.5],
[348,-1.72,-1.9,-2.1,-2.3,-2.6,-2.84,-3.23,-3.47,-3.8,-7.95],
[357,-.66,-.82,-.97,-1.2,-1.44,-1.67,-1.9,-2.14,-2.37,-3.23,-3.92],
[364,-.16,-.23,-.35,-.5],
[408,-.82,-1,-1.28,-1.87,-2.17,-2.37,-2.6,-2.8,-3,-3.23,-3.47,-3.7,-4.15,-4.48,-4.56,-5.34,-5.53,-5.73],
[426,-.42,-.5,-.66,-.82,-.97,-1.2,-1.48,-2.42,-3.01,-3.87]
];
const pointsBand6=[
[3.5,1.85,1.5,1.2,.85,.55,.2,-.1,-.4,-.75,-1.05,-1.35,-1.7,-2,-2.3,-2.65,-2.95,-3.25,-3.6,-3.9,-4.2],
[11,1.7,1.35,1,.7,.35,.05,-.3,-.6,-.9,-1.25,-1.55,-1.85,-2.2,-2.5,-2.8,-3.15,-3.45,-3.75,-4.05],
[20,1.75,1.45,1.1,.8,.45,.15,-.2,-.5,-.8,-1.15,-1.45,-1.75,-2.1,-2.4,-2.7,-3.05,-3.35,-3.65,-3.95],
[25,1.5,1.15,.85,.5,.2,-.15,-.45,-.75,-1.1,-1.4,-1.7,-2.05,-2.35,-2.65,-3,-3.3,-3.6,-3.9],
[34,1.25,.9,.6,.25,-.05,-.35,-.7,-1,-1.3,-1.65,-1.95,-2.25,-2.6,-2.9,-3.2,-3.55,-3.8],
[43,1.1,.75,.45,.1,-.2,-.5,-.85,-1.15,-1.45,-1.8,-2.1,-2.4,-2.75,-3.05,-3.35,-3.7],
[49,.8,.45,.15,-.2,-.5,-.8,-1.15,-1.45,-1.75,-2.1,-2.4,-2.7,-3.05,-3.35,-3.65,-3.95],
[57,.75,.4,.1,-.2,-.55,-.85,-1.15,-1.5,-1.8,-2.1,-2.45,-2.75,-3.05,-3.4,-3.7,-4],
[66,.6,.3,0,-.3,-.65,-.95,-1.25,-1.6,-1.9,-2.2,-2.55,-2.85,-3.15,-3.5,-3.8],
[74,-.25,-.6,-.9,-1.25,-1.55,-1.85,-2.2,-2.5,-2.8,-3.15,-3.45,-3.75,-4],
[102,-.55,-.8,-1.05,-1.3,-1.55,-1.8,-2.05,-2.3,-2.55,-2.8,-3.05],
[110,-.85,-1.1,-1.35,-1.6,-1.85,-2.1,-2.35,-2.6,-2.85,-3.1,-3.35],
[.6,2.73],[2,2,1.7,1.35,1.05,.7,.4,.05,-.25,-.55,-.9,-1.2,-1.5,-1.85,-2.15,-2.45,-2.8,-3.1,-3.4,-3.75,-4.05,-4.35,-4.9,-6.55,-6.7],
[2.3,-5.27],[5.5,2.85,2.57,1.55,1.2,.9,.55,.25,-.1,-.4,-.7,-1.05,-1.35,-1.65,-2,-2.3,-2.6,-2.95,-3.25,-3.55,-3.9,-4.2],
[6.5,3.22,2.4],[7,-5.12,-4.53],[9,1.85,1.5,1.15,.85,.5,.2,-.15,-.45,-.75,-1.1,-1.4,-1.7,-2.05,-2.35,-2.65,-3,-3.3,-3.6,-3.95,-4.78,-5.65],
[13,-5.37],[13.5,-6.38,1.9,1.55,1.25,.9,.6,.25,-.05,-.35,-.7,-1,-1.3,-1.65,-1.95,-2.25,-2.6,-2.9,-3.2,-3.55,-3.85,-4.15],
[16,-7.15,-5.67,-5.3],[18,2.43,1.7,1.4,1.05,.75,.4,.1,-.2,-.55,-.85,-1.15,-1.5,-1.8,-2.1,-2.45,-2.75,-3.05,-3.4,-3.7,-4],
[20,3.03],[20.5,-6.2],[21,2.73],[22,1.4,1.1,.75,.45,.1,-.2,-.5,-.85,-1.15,-1.45,-1.8,-2.1,-2.4,-2.75,-3.05,-3.35,-3.7,-4,-4.3,-4.73],
[23,-5.02],[27,1.85,1.55,1.2,.9,.55,.25,-.05,-.4,-.7,-1,-1.35,-1.65,-1.95,-2.3,-2.6,-2.9,-3.25,-3.55,-3.85,-4.25],
[28.5,2.25],[30,-4.55],[32,1.45,1.1,.8,.45,.15,-.2,-.5,-.8,-1.15,-1.45,-1.75,-2.1,-2.4,-2.7,-3.05,-3.35,-3.65,-3.95,-4.95],
[36,.95,.6,.3,-.05,-.35,-.65,-1,-1.3,-1.6,-1.95,-2.25,-2.55,-2.9,-3.2,-3.5,-3.8,-4.2],
[39,1.8,-5.05],[41,1.55,.85,.5,.2,-.15,-.45,-.75,-1.1,-1.4,-1.7,-2.05,-2.35,-2.65,-3,-3.3,-3.6,-3.9,-4.35],
[44,2.05],[46,.7,.35,.05,-.25,-.6,-.9,-1.2,-1.55,-1.85,-2.15,-2.5,-2.8,-3.1,-3.45,-3.75],
[49,-5.3],[51,1.35,1.18,.85,.55,.2,-.1,-.4,-.75,-1.05,-1.35,-1.7,-2,-2.3,-2.65,-2.95,-3.25,-3.6,-3.9,-4.45],
[54,.3,0,-.3,-.65,-.95,-1.25,-1.6,-1.9,-2.2,-2.55,-2.85,-3.15,-3.5,-3.8,-4.53],[58,-4.3],
[60,1.47,1.18,.85,.6,.3,.05,-.25,-.55,-.9,-1.2,-1.5,-1.85,-2.15,-2.45,-2.8,-3.1,-3.4,-3.75,-4.05],
[64,.3,0,-.35,-.65,-.95,-1.3,-1.6,-1.9,-2.25,-2.55,-2.85,-3.2,-3.5,-3.8,-4.15],
[68,1.88,1.52,1.15,.8,.55,.3,.05,-.15,-.45,-.75,-1.1,-1.4,-1.7,-2.05,-2.35,-2.65,-3,-3.3,-3.6,-3.9,-4.1],[69,-5.15],
[72,1.12,.87,.5,.25,0,-.3,-.6,-.95,-1.25,-1.55,-1.9,-2.2,-2.5,-2.85,-3.15,-3.45,-3.8,-4.1,-4.6,-4.93,-6.7],
[76,-.5,-.8,-1.15,-1.45,-1.75,-2.1,-2.4,-2.7,-3.05,-3.35,-3.65,-3.9,-5.12,-5.3,-5.65],
[80,.42,.12,0,-.2,-.45,-.6,-.78,-1.13,-1.36,-2,-2.3,-2.6,-3.95],[81,-5.03],
[89,.28,.12,0,-.15,-.3,-.55,-.75],
[93,1.35,.92,.65,.42],
[97,-5.6],[98,.12,-.05,-.27,-.5,-.7,-.9,-1.1,-1.3,-1.5,-1.7,-1.9,-2.1,-2.3,-2.5,-2.7,-4.15],
[104,-.4,-.65,-.9,-1.15,-1.4,-1.65,-1.9,-2.15,-2.4,-2.65,-2.9,-3.1,-4.1],
[107,-.5,-.65,-.8,-.95,-1.1,-1.25,-1.4,-1.55,-1.7,-1.85,-2,-2.15,-2.3,-2.5,-2.7,-2.9,-3.1,-3.31,-3.7,-3.9,-4.1,-4.29,-4.85,-5.5],
[110,-6.55],[114,.12,.05,-.05,-.15,-.25,-.35,-.45,-.55,-3.12],
[118,-1.2,-1.4,-1.67],
[124,-.52,-.7,-.85,-1,-1.17],
[138,-1.65,-1.82,-1.98,-2.3,-2.53,-2.76,-3,-3.15,-3.9,-5.95],
[147,-.55,-.78,-.97,-1.2,-1.36,-2.1,-2.3,-2.53,-2.75],
[153,-1.05,-1.28,-1.52,-1.72,-2.3,-2.53,-3.25],
[165,.08,-.04,-.16,-.31,-.47,-.58,-.82,-1.36,-1.67,-1.83,-2.06],
[168,-2.53,-2.84],
[175,-1.9,-2.06,-2.22,-2.53,-2.76,-2.92,-3.03,-3.15,-4.47,-4.8],
[198,-1.23,-1.36,-1.67,-1.83],
[203,-.27,-.42,-.58,-.82,-1.28,-1.83],
[205,-.74,-.9],
[211,-1.32,-1.67,-1.87,-2.14,-2.37,-2.6,-3,-3.23,-3.9,-4.29],
[216,-3.47,-3.7,-4.09],
[218,-.5,-.74,-.97,-1.36,-1.6],
[224,-1.79,-1.98,-2.22,-2.53,-2.92],
[226,-1.44,-1.67,-2.37,-2.68,-3.12,-4.02,-4.2],
[234,-.39,-.5,-.66,-.9,-1.1,-1.28,-1.44],
[268,.2,0,-.16,-.31,-.43,-.54],
[302,-1.05,-1.17,-1.28,-1.44,-1.6],
[348,-1.36,-1.56,-1.9,-2.34,-2.53,-2.73,-2.96,-3.08,-3.7,-5.42],
[356,-.66,-.82,-.97,-1.52,-1.75,-1.98,-2.22,-2.37,-2.57,-2.84,-3.12,-3.82,-5.82],
[364,-.12,-.2,-.27,-.35,-.43],
[408,-1.17,-1.32,-1.48,-1.56,-1.95,-2.18,-2.96,-3.12,-4.05,-4.2],
[426,-.54,-.66,-.78,-.9,-1,-1.17,-1.28]
];
const allPoints=[pointsBand1,pointsBand2,pointsBand3,pointsBand4,pointsBand5,pointsBand6];

const errorX=[5,15,25,35,45,55,65,75,90,125,175,250,350,425];
const meanBand1=[-1.02,-1.22,-1.27,-1.25,-1.27,-1.41,-1.1,-1.91,-1.66,-1.68,-2.49,-1.98,-1.51,-1.43];
const upperBand1=[.13,-.21,-.25,-.23,-.37,-.21,.06,-.91,-.32,-.61,-1.01,-.82,-.66,-.39];
const lowerBand1=[-2.16,-2.24,-2.3,-2.28,-2.19,-2.61,-2.27,-2.91,-3.01,-2.75,-3.98,-3.15,-2.37,-2.47];
const meanBand2=[-.97,-1.3,-1.26,-1.1,-1.39,-1.21,-1.15,-1.8,-1.39,-1.56,-1.76,-1.94,-1.78,-1.83];
const upperBand2=[.22,-.17,-.17,-.09,-.4,.01,.22,-.64,-.53,-.73,-.67,-1.07,-.7,-.7];
const lowerBand2=[-2.14,-2.43,-2.35,-2.1,-2.4,-2.43,-2.52,-3.02,-2.27,-2.4,-2.85,-2.81,-2.87,-2.97];
const meanBand3=[-.82,-1.2,-.82,-.82,-1.25,-.95,-.98,-1.56,-1.8,-1.68,-2.07,-1.67,-1.93,-1.6];
const upperBand3=[.4,.03,.19,.33,-.08,.36,.34,-.56,-.6,-.73,-1.08,-.68,-.89,-1];
const lowerBand3=[-2.07,-2.42,-1.8,-1.95,-2.42,-2.26,-2.29,-2.52,-2.98,-2.64,-3.06,-2.67,-2.97,-2.19];
const meanBand4=[-.72,-1.11,-.58,-.61,-1.07,-.84,-.92,-1.75,-1.34,-1.75,-2.07,-1.35,-1.41,-1.7];
const upperBand4=[.61,.05,.61,.5,.03,.38,.25,-.58,-.24,-.5,-1.1,-.54,-.33,-.85];
const lowerBand4=[-2.05,-2.3,-1.77,-1.74,-2.21,-2.07,-2.11,-2.95,-2.43,-3.01,-3.04,-2.17,-2.47,-2.54];
const meanBand5=[-.54,-.86,-.42,-.57,-1,-1.19,-1.11,-1.96,-1.1,-1.59,-1.98,-1.21,-1.48,-2.1];
const upperBand5=[.68,.33,.89,.64,.1,.12,.14,-.93,.02,-.44,-.83,-.29,-.44,-.63];
const lowerBand5=[-1.77,-2.07,-1.72,-1.77,-2.09,-2.48,-2.34,-2.99,-2.1,-2.73,-3.14,-2.12,-2.54,-3.58];
const meanBand6=[-.48,-.85,-.32,-.64,-1.09,-.96,-1,-1.83,-.68,-1.65,-1.51,-1.39,-1.54,-1.46];
const upperBand6=[.77,.4,.85,.61,.2,.34,.22,-.23,.32,-.58,-.58,-.41,-.47,-.71];
const lowerBand6=[-1.76,-2.11,-1.49,-1.91,-2.4,-2.26,-2.21,-3.44,-1.76,-2.73,-2.44,-2.37,-2.61,-2.21];
const allMeans=[meanBand1,meanBand2,meanBand3,meanBand4,meanBand5,meanBand6];
const allUppers=[upperBand1,upperBand2,upperBand3,upperBand4,upperBand5,upperBand6];
const allLowers=[lowerBand1,lowerBand2,lowerBand3,lowerBand4,lowerBand5,lowerBand6];

const bandLabels=["0.0-0.5Hz","0.5-1.0Hz","1.0-1.5Hz","1.5-2.0Hz","2.0-2.5Hz","2.5-3.0Hz"];
const upperCapColors=["#7E2F8E","#0072BD","#D95319","#0072BD","#D95319","#0072BD"];
const lowerCapColors=["#EDB120","#A2142F","#0072BD","#A2142F","#0072BD","#A2142F"];
const xTicks=[0,50,100,150,200,250,300,350,400,450];
const yDecades=[-8,-6,-4,-2,0,2,4];

const lefts=[97,1088], rights=[950,1941], tops=[14,740,1465], bottoms=[687,1413,2138];
const tickFont='"Liberation Sans",Arial,sans-serif';
const svg=d3.select("#c");

allPoints.forEach((rows,p)=>{
  const col=p%2,row=Math.floor(p/2);
  const W=rights[col]-lefts[col],H=bottoms[row]-tops[row];
  const x=d3.scaleLinear().domain([0,450]).range([0,W]);
  const y=d3.scaleLog().domain([1e-8,1e4]).range([H,0]);
  const g=svg.append("g").attr("transform",`translate(${lefts[col]},${tops[row]})`);

  // grid
  const minors=[],majors=[];
  for(let k=-8;k<4;k++){for(let m=2;m<=9;m++)minors.push(m*Math.pow(10,k));}
  for(let k=-7;k<4;k++)majors.push(Math.pow(10,k));
  g.append("g").selectAll("line").data(minors).join("line")
    .attr("x1",0).attr("x2",W).attr("y1",d=>y(d)).attr("y2",d=>y(d))
    .attr("stroke","#c4c4c4").attr("stroke-width",1).attr("stroke-dasharray","1 1");
  g.append("g").selectAll("line").data(majors).join("line")
    .attr("x1",0).attr("x2",W).attr("y1",d=>y(d)).attr("y2",d=>y(d))
    .attr("stroke","#e0e0e0").attr("stroke-width",2);
  g.append("g").selectAll("line").data(xTicks.slice(1,-1)).join("line")
    .attr("y1",0).attr("y2",H).attr("x1",d=>x(d)).attr("x2",d=>x(d))
    .attr("stroke","#dcdcdc").attr("stroke-width",1.5);

  // box ticks
  const tickCol="#444";
  [[d3.axisBottom(x),H],[d3.axisTop(x),0]].forEach(([ax,ty])=>{
    const a=g.append("g").attr("transform",`translate(0,${ty})`)
      .call(ax.tickValues(xTicks).tickSizeOuter(0).tickSizeInner(-9).tickFormat(""));
    a.select(".domain").attr("stroke",tickCol).attr("stroke-width",2);
    a.selectAll("line").attr("stroke",tickCol).attr("stroke-width",1.5);
  });
  const decTicks=d3.range(-8,5).map(k=>Math.pow(10,k));
  [[d3.axisLeft(y),0],[d3.axisRight(y),W]].forEach(([ax,tx])=>{
    const a=g.append("g").attr("transform",`translate(${tx},0)`)
      .call(ax.tickValues(decTicks).tickSizeOuter(0).tickSizeInner(-9).tickFormat(""));
    a.select(".domain").attr("stroke",tickCol).attr("stroke-width",2);
    a.selectAll("line").attr("stroke",tickCol).attr("stroke-width",1.5);
    a.append("g").selectAll("line.m").data(minors).join("line")
      .attr("x1",0).attr("x2",tx?-4.5:4.5).attr("y1",d=>y(d)).attr("y2",d=>y(d))
      .attr("stroke",tickCol).attr("stroke-width",1);
  });

  // x tick labels
  g.append("g").selectAll("text").data(xTicks).join("text")
    .attr("x",d=>x(d)).attr("y",H+31).attr("text-anchor","middle")
    .attr("font-family",tickFont).attr("font-size",22).attr("letter-spacing",-.6).attr("fill","#262626")
    .text(d=>d);
  // y tick labels
  const yl=g.append("g").selectAll("text").data(yDecades).join("text")
    .attr("font-family",tickFont).attr("fill","#262626").attr("text-anchor","end")
    .attr("x",-10).attr("y",d=>y(Math.pow(10,d))+12);
  yl.append("tspan").attr("font-size",22).attr("letter-spacing",-.6).text("10");
  yl.append("tspan").attr("font-size",16).attr("dy",-12).text(d=>String(d).replace("-","\u2212"));

  // scatter
  const pts=rows.flatMap(r=>r.slice(1).map(e=>({x:r[0],v:Math.pow(10,e)})));
  g.append("g").selectAll("circle").data(pts).join("circle")
    .attr("cx",d=>x(d.x)).attr("cy",d=>y(d.v)).attr("r",8)
    .attr("fill","#0072BD").attr("stroke","#333").attr("stroke-width",1.6);

  // error bars
  const eb=errorX.map((ex,i)=>({x:ex,m:Math.pow(10,allMeans[p][i]),u:Math.pow(10,allUppers[p][i]),l:Math.pow(10,allLowers[p][i])}));
  const capW=x(13.5)-x(0);
  g.append("g").selectAll("line").data(eb).join("line")
    .attr("x1",d=>x(d.x)).attr("x2",d=>x(d.x)).attr("y1",d=>y(d.u)).attr("y2",d=>y(d.l))
    .attr("stroke","#F01010").attr("stroke-width",2.8);
  g.append("g").selectAll("line").data(eb).join("line")
    .attr("x1",d=>x(d.x)-capW/2).attr("x2",d=>x(d.x)+capW/2).attr("y1",d=>y(d.u)).attr("y2",d=>y(d.u))
    .attr("stroke",upperCapColors[p]).attr("stroke-width",1.6);
  g.append("g").selectAll("line").data(eb).join("line")
    .attr("x1",d=>x(d.x)-capW/2).attr("x2",d=>x(d.x)+capW/2).attr("y1",d=>y(d.l)).attr("y2",d=>y(d.l))
    .attr("stroke",lowerCapColors[p]).attr("stroke-width",1.6);
  g.append("g").selectAll("circle").data(eb).join("circle")
    .attr("cx",d=>x(d.x)).attr("cy",d=>y(d.m)).attr("r",8)
    .attr("fill","#C8322F").attr("stroke","#333").attr("stroke-width",1.6);

  // band label
  const mono='"DejaVu Sans Mono",monospace';
  g.append("text").attr("x",W-189).attr("y",49).attr("font-family",mono).attr("font-size",36)
    .attr("textLength",182).attr("lengthAdjust","spacingAndGlyphs").attr("fill","#111").text("Freq. Band");
  g.append("text").attr("x",W-189).attr("y",86).attr("font-family",mono).attr("font-size",36)
    .attr("textLength",164).attr("lengthAdjust","spacingAndGlyphs").attr("fill","#111").text(bandLabels[p]);

  // y label
  g.append("text").attr("transform",`translate(${31-97},${H/2-1}) rotate(-90)`)
    .attr("text-anchor","middle").attr("font-family",'"Noto Sans CJK JP",sans-serif').attr("font-weight",700)
    .attr("font-size",36).attr("textLength",183).attr("lengthAdjust","spacingAndGlyphs").attr("fill","#000").text("Residuals");
  if(row===2){
    g.append("text").attr("x",W/2-2).attr("y",2211-tops[row]).attr("text-anchor","middle")
      .attr("font-family",'"Noto Sans CJK JP",sans-serif').attr("font-weight",700)
      .attr("font-size",36).attr("textLength",424).attr("lengthAdjust","spacingAndGlyphs").attr("fill","#000").text("Number of waveforms");
  }
});
</script></body></html>
